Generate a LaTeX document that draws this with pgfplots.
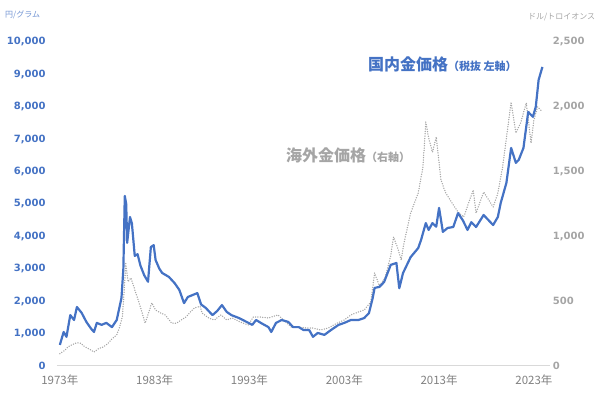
\documentclass[border=0pt]{standalone}
\usepackage{pgfplots}
\pgfplotsset{compat=1.18}
\usepackage{fontspec}
\setmainfont{DejaVu Sans}
\newfontfamily\jp{Noto Sans CJK JP}
\definecolor{blu}{HTML}{4472C4}
\definecolor{gry}{HTML}{A5A5A5}
\definecolor{lab}{HTML}{808080}
\definecolor{axl}{HTML}{D9D9D9}
\pgfplotstableread{
yr val
1973.0 650
1973.4 1050
1973.7 900
1974.1 1570
1974.5 1420
1974.8 1820
1975.3 1640
1975.8 1360
1976.3 1150
1976.6 1050
1976.9 1330
1977.4 1270
1977.9 1330
1978.5 1200
1979.0 1420
1979.5 2100
1979.7 3000
1979.85 5250
1980.0 5000
1980.1 3800
1980.4 4600
1980.6 4400
1980.9 3400
1981.2 3450
1981.5 3100
1981.9 2800
1982.3 2600
1982.6 3670
1982.9 3730
1983.1 3270
1983.5 3000
1983.8 2870
1984.5 2750
1985.1 2560
1985.6 2350
1986.1 1940
1986.5 2130
1987.0 2190
1987.5 2250
1987.9 1900
1988.4 1790
1989.1 1570
1989.6 1700
1990.1 1880
1990.6 1670
1991.1 1570
1991.9 1480
1992.9 1330
1993.3 1270
1993.7 1420
1994.2 1330
1995.0 1200
1995.3 1050
1995.8 1330
1996.4 1420
1997.1 1360
1997.6 1200
1998.2 1200
1998.7 1110
1999.3 1110
1999.7 900
2000.2 1020
2000.9 960
2001.6 1110
2002.4 1270
2003.0 1330
2003.7 1420
2004.5 1420
2005.1 1480
2005.6 1630
2006.0 2100
2006.2 2410
2006.7 2440
2007.2 2590
2007.9 3120
2008.5 3180
2008.8 2400
2009.2 2870
2010.0 3360
2010.8 3640
2011.1 3890
2011.6 4410
2011.9 4200
2012.3 4410
2012.7 4300
2013.0 4880
2013.4 4140
2013.9 4260
2014.5 4290
2015.0 4720
2015.5 4500
2016.0 4200
2016.4 4440
2016.9 4290
2017.7 4660
2018.7 4350
2019.2 4600
2019.5 5030
2020.1 5650
2020.6 6730
2021.1 6270
2021.4 6360
2021.9 6730
2022.4 7840
2022.9 7690
2023.2 8000
2023.5 8830
2023.9 9230
}\domestic
\pgfplotstableread{
yr val
1973.0 95
1973.5 120
1973.9 150
1974.3 165
1974.8 180
1975.2 175
1975.6 150
1976.1 130
1976.6 108
1977.1 135
1977.6 147
1978.1 175
1978.5 210
1979.0 240
1979.3 300
1979.6 380
1979.8 600
1979.95 790
1980.2 650
1980.5 680
1980.9 590
1981.3 500
1981.6 430
1982.0 330
1982.4 420
1982.7 486
1983.1 432
1983.6 410
1984.1 394
1984.8 330
1985.3 330
1985.8 355
1986.3 378
1986.8 420
1987.2 448
1987.8 460
1988.0 409
1988.7 370
1989.3 355
1990.0 394
1990.6 355
1991.2 370
1992.0 340
1992.9 316
1993.4 378
1994.2 378
1995.0 370
1996.0 394
1996.6 355
1997.4 301
1998.1 301
1999.1 293
1999.7 293
2000.5 278
2001.3 293
2002.3 332
2003.0 355
2003.7 394
2004.5 417
2005.1 432
2005.8 494
2006.2 718
2006.7 620
2007.3 680
2007.9 850
2008.2 995
2008.7 895
2009.0 818
2009.3 949
2010.0 1180
2010.8 1335
2011.3 1535
2011.6 1883
2011.9 1760
2012.3 1650
2012.7 1767
2013.2 1435
2013.7 1335
2014.3 1265
2015.0 1188
2015.6 1150
2016.6 1358
2016.9 1180
2017.7 1342
2018.7 1227
2019.2 1335
2019.7 1535
2020.6 2037
2021.1 1798
2021.6 1875
2022.2 2030
2022.7 1720
2023.0 1898
2023.4 2000
2023.9 1960
}\overseas
\begin{document}
\begin{tikzpicture}[x=1pt,y=1pt]
\path[use as bounding box] (0,0) rectangle (600,395);
% right axis: overseas price
\begin{axis}[
  at={(57pt,29pt)}, anchor=south west,
  scale only axis, width=493pt, height=324pt,
  xmin=1972.7, xmax=2024.7, ymin=0, ymax=2500,
  axis line style={draw=none}, major tick length=0pt,
  xtick=\empty,
  ytick={0,500,...,2500}, yticklabel pos=right,
  scaled y ticks=false,
  /pgf/number format/assume math mode=true,
  /pgf/number format/1000 sep={,},
  yticklabel style={font=\bfseries\fontsize{10}{10}\selectfont, text=gry, anchor=west, xshift=-0.7pt},
  clip=false,
]
\addplot[color=gry, line width=1.5pt, dash pattern=on 0pt off 2.4pt, line cap=round] table[x=yr,y=val] {\overseas};
\end{axis}
% left axis: domestic price
\begin{axis}[
  at={(57pt,29pt)}, anchor=south west,
  scale only axis, width=493pt, height=324pt,
  xmin=1972.7, xmax=2024.7, ymin=0, ymax=10000,
  axis line style={draw=none}, major tick length=0pt,
  xtick={1973,1983,1993,2003,2013,2023},
  xticklabels={1973年,1983年,1993年,2003年,2013年,2023年},
  xticklabel style={font=\jp\fontsize{11.5}{11.5}\selectfont, text=lab, yshift=-5pt},
  ytick={0,1000,...,10000},
  scaled y ticks=false,
  /pgf/number format/assume math mode=true,
  /pgf/number format/1000 sep={,},
  yticklabel style={font=\bfseries\fontsize{10}{10}\selectfont, text=blu, anchor=east, xshift=-8pt},
  clip=false,
]
\draw[color=axl, line width=1pt] (rel axis cs:0,0) -- (rel axis cs:1,0);
\addplot[color=blu, line width=2.2pt, line join=round] table[x=yr,y=val] {\domestic};
\end{axis}
\node[anchor=west, inner sep=0pt, text=blu] at (368,331) {\jp\bfseries{\fontsize{16}{16}\selectfont 国内金価格}{\fontsize{11}{11}\selectfont （税抜 左軸）}};
\node[anchor=west, inner sep=0pt, text=gry] at (286,240) {\jp\bfseries{\fontsize{16}{16}\selectfont 海外金価格}{\fontsize{11}{11}\selectfont （右軸）}};
\node[anchor=west, inner sep=0pt, text=blu!75!white] at (5,380) {\jp\fontsize{8}{8}\selectfont 円/グラム};
\node[anchor=west, inner sep=0pt, text=gry] at (528,378) {\jp\fontsize{8}{8}\selectfont ドル/トロイオンス};
\end{tikzpicture}
\end{document}
